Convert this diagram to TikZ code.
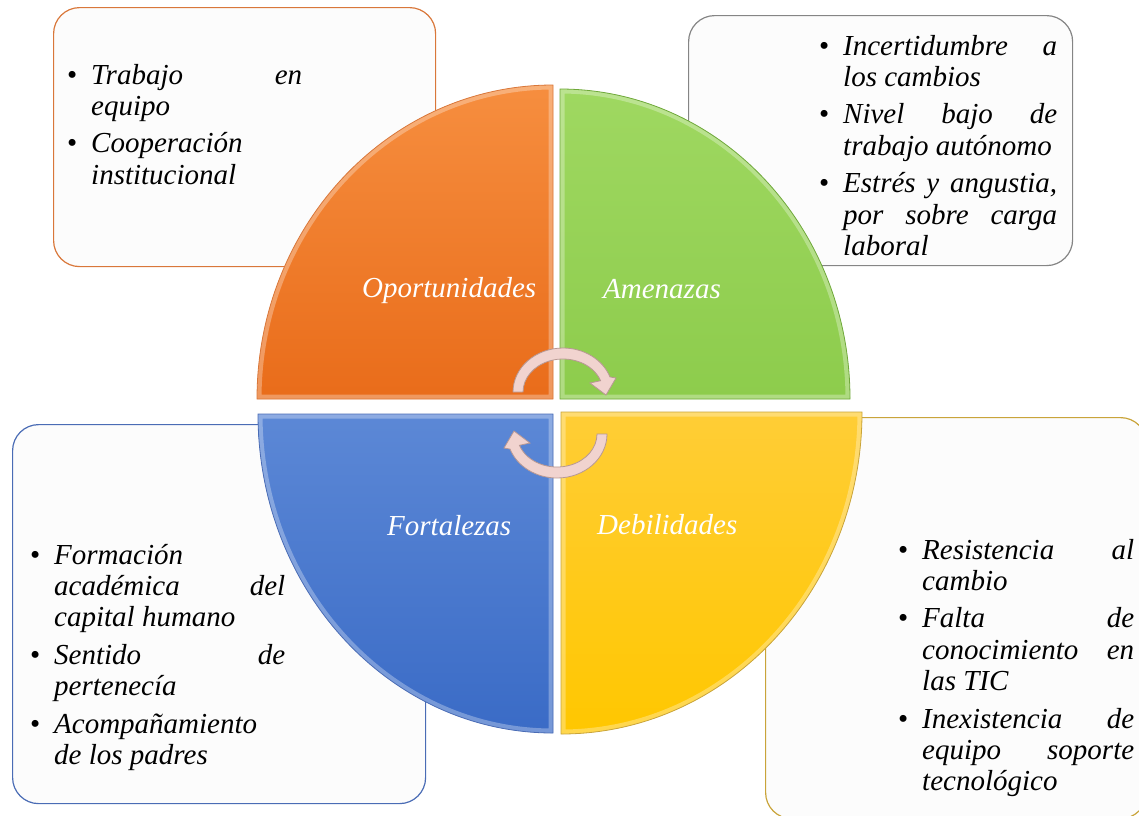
\documentclass[tikz,border=0pt]{standalone}
\usepackage{fontspec}
\setmainfont{Liberation Serif}
\usepackage{tikz}
\usetikzlibrary{shapes,arrows}
\definecolor{opfill}{HTML}{F68E3F}
\definecolor{opdark}{HTML}{E96C1A}
\definecolor{opedge}{HTML}{D9773A}
\definecolor{amfill}{HTML}{9FD861}
\definecolor{amdark}{HTML}{8DCC4C}
\definecolor{amedge}{HTML}{6FA83A}
\definecolor{fofill}{HTML}{5C88D6}
\definecolor{fodark}{HTML}{3A6BC6}
\definecolor{foedge}{HTML}{4A6CB5}
\definecolor{defill}{HTML}{FFCD36}
\definecolor{dedark}{HTML}{FFC700}
\definecolor{deedge}{HTML}{C9A43A}
\definecolor{grayedge}{HTML}{858585}
\definecolor{panelfill}{HTML}{FCFCFC}
\definecolor{arrowpink}{HTML}{F1D3CF}
\definecolor{arrowedge}{HTML}{B89893}
\newcommand{\swotfont}{\fontsize{29}{31.2}\selectfont\itshape}
\newcommand{\labelfont}{\fontsize{29}{31}\selectfont\itshape}
\newcommand{\swotitem}[1]{\noindent\hangindent=24pt\hangafter=1\makebox[24pt][l]{\upshape\textbullet}#1\par}
\newcommand{\swotnext}{\vspace{6.5pt}}
% quarter disc with a light bevel: top colour, bottom colour, edge, path
\newcommand{\quadrant}[4]{%
  \begin{scope}
    \clip #4;
    \shade[top color=#1, bottom color=#2] #4;
    \draw[white, opacity=0.3, line width=9pt] #4;
  \end{scope}
  \draw[#3, line width=0.8pt] #4;}
% curved arrow between two quadrants
\newcommand{\turnarrow}{(513,392) arc[start angle=180, end angle=20, x radius=50pt, y radius=44pt]
  -- (616,378) -- (606,395) -- (590,383) -- (600.6,380.7)
  arc[start angle=20, end angle=180, x radius=40pt, y radius=33pt] -- cycle}
\tikzset{
  panel/.style={draw, rounded corners=26pt, fill=panelfill, line width=1.2pt,
    anchor=north west, inner sep=0pt},
  swottext/.style={anchor=base west, inner sep=0pt, align=justify, font=\swotfont},
  quadlabel/.style={anchor=base west, inner sep=0pt, text=white, font=\labelfont},
  turn/.style={fill=arrowpink, draw=arrowedge, line width=0.8pt},
}
\begin{document}
\begin{tikzpicture}[x=1pt,y=-1pt]
\useasboundingbox (0,0) rectangle (1139,815);
\clip (0,0) rectangle (1139,815);
% boxes
\node[panel, draw=opedge, minimum width=382pt, minimum height=259pt] (opbox) at (53,7) {};
\node[panel, draw=grayedge, minimum width=384pt, minimum height=250pt] (ambox) at (688,15) {};
\node[panel, draw=foedge, minimum width=413pt, minimum height=379pt] (fobox) at (12,424) {};
\node[panel, draw=deedge, minimum width=381pt, minimum height=401pt] (debox) at (765,417) {};
% quadrants
\quadrant{opfill}{opdark}{opedge}{(553,399) -- (257,399)
  arc[start angle=180, end angle=90, x radius=296pt, y radius=314pt] -- cycle}
\quadrant{amfill}{amdark}{amedge}{(560,399) -- (560,89)
  arc[start angle=90, end angle=0, x radius=290pt, y radius=310pt] -- cycle}
\quadrant{fofill}{fodark}{foedge}{(553,414) -- (258,414)
  arc[start angle=180, end angle=270, x radius=295pt, y radius=319pt] -- cycle}
\quadrant{defill}{dedark}{deedge}{(561,412) -- (862,412)
  arc[start angle=0, end angle=-90, x radius=301pt, y radius=322pt] -- cycle}
% labels
\node[quadlabel] (oplabel) at (362,297) {Oportunidades};
\node[quadlabel] (amlabel) at (603,298) {Amenazas};
\node[quadlabel] (folabel) at (387,535) {Fortalezas};
\node[quadlabel] (delabel) at (597,534) {Debilidades};
% arrows
\draw[turn] \turnarrow;
\begin{scope}[rotate around={180:(560,413)}]
\draw[turn] \turnarrow;
\end{scope}
% lists
\node[swottext, text width=235pt] (optext) at (67,84) {%
  \swotitem{Trabajo en\linebreak equipo}\swotnext
  \swotitem{Cooperación\newline institucional}};
\node[swottext, text width=238pt] (amtext) at (819,55) {%
  \swotitem{Incertidumbre a\linebreak los cambios}\swotnext
  \swotitem{Nivel bajo de\linebreak trabajo autónomo}\swotnext
  \swotitem{Estrés y angustia,\linebreak por sobre carga\linebreak laboral}};
\node[swottext, text width=255pt] (fotext) at (30,564) {%
  \swotitem{Formación\newline académica del\linebreak capital humano}\swotnext
  \swotitem{Sentido de\linebreak pertenecía}\swotnext
  \swotitem{Acompañamiento\newline de los padres}};
\node[swottext, text width=236pt] (detext) at (898,559) {%
  \swotitem{Resistencia al\linebreak cambio}\swotnext
  \swotitem{Falta de\linebreak conocimiento en\linebreak las TIC}\swotnext
  \swotitem{Inexistencia de\linebreak equipo soporte\linebreak tecnológico}};
\end{tikzpicture}
\end{document}
